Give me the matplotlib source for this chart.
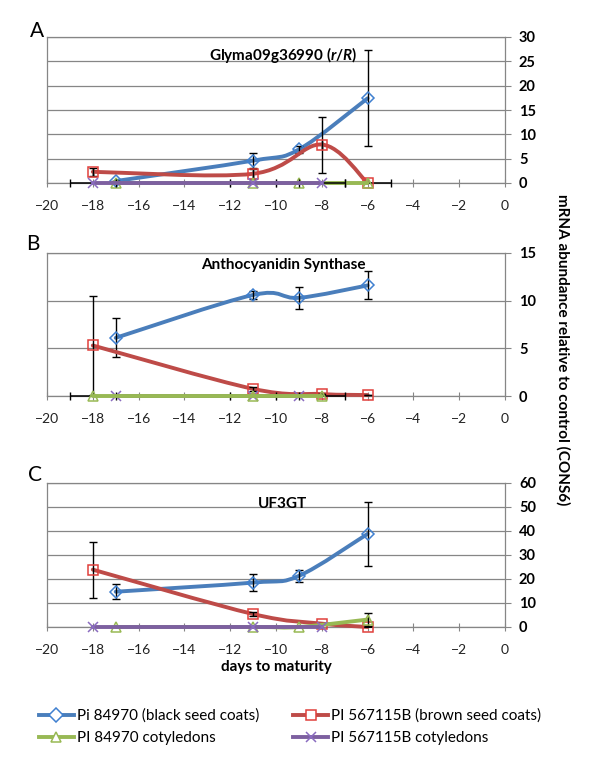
import matplotlib
matplotlib.use("Agg")
import numpy as np
from matplotlib import pyplot as plt
from matplotlib.path import Path
from matplotlib.patches import PathPatch
from matplotlib.lines import Line2D

plt.rcParams['font.family'] = ['Lato', 'DejaVu Sans']
plt.rcParams['mathtext.fontset'] = 'custom'
plt.rcParams['mathtext.it'] = 'Lato:bold:italic'
plt.rcParams['mathtext.rm'] = 'Lato:bold'

# series names and colours
names = ["Pi 84970 (black seed coats)", "PI 567115B (brown seed coats)",
         "PI 84970 cotyledons", "PI 567115B cotyledons"]
line_cols = ["#4A7EBB", "#BE4B48", "#98B954", "#7D60A0"]
mark_cols = ["#3F80D0", "#E0403C", "#98B954", "#8A6CC0"]
markers = ["D", "s", "^", "x"]

# panel A: Glyma09g36990 (r/R)
a_blue_x = [-17, -11, -9, -6]
a_blue_y = [0.4, 4.6, 6.9, 17.4]
a_blue_e = [0, 1.6, 0.7, 9.85]
a_red_x = [-18, -11, -8, -6]
a_red_y = [2.3, 1.9, 7.9, 0.0]
a_red_e = [0.8, 1.0, 5.75, 0]
a_green_x = [-17, -11, -9, -6]
a_green_y = [0, 0, 0, 0]
a_purple_x = [-18, -11, -8]
a_purple_y = [0, 0, 0]

# panel B: Anthocyanidin Synthase
b_blue_x = [-17, -11, -9, -6]
b_blue_y = [6.1, 10.6, 10.3, 11.6]
b_blue_e = [2.05, 0.45, 1.15, 1.47]
b_red_x = [-18, -11, -8, -6]
b_red_y = [5.3, 0.75, 0.2, 0.1]
b_red_e = [5.15, 0.2, 0, 0]
b_green_x = [-18, -11, -8]
b_green_y = [0, 0, 0]
b_purple_x = [-17, -11, -9]
b_purple_y = [0, 0, 0]

# panel C: UF3GT
c_blue_x = [-17, -11, -9, -6]
c_blue_y = [14.7, 18.5, 21.3, 38.8]
c_blue_e = [3.2, 3.4, 2.45, 13.3]
c_red_x = [-18, -11, -8, -6]
c_red_y = [23.9, 5.4, 1.4, 0.0]
c_red_e = [11.7, 0.9, 0, 0]
c_green_x = [-17, -11, -9, -6]
c_green_y = [0, 0, 0, 3.1]
c_green_e = [0, 0, 0, 2.7]
c_purple_x = [-18, -11, -8]
c_purple_y = [0, 0, 0]

xticks = list(range(-20, 1, 2))


def smooth(x, y):
    # Excel style smoothed line: bezier through the points
    x = np.asarray(x, float)
    y = np.asarray(y, float)
    px = np.concatenate([[x[0]], x, [x[-1]]])
    py = np.concatenate([[y[0]], y, [y[-1]]])
    verts = [(x[0], y[0])]
    codes = [Path.MOVETO]
    for i in range(1, len(px) - 2):
        c1 = (px[i] + (px[i + 1] - px[i - 1]) / 6, py[i] + (py[i + 1] - py[i - 1]) / 6)
        c2 = (px[i + 1] - (px[i + 2] - px[i]) / 6, py[i + 1] - (py[i + 2] - py[i]) / 6)
        verts += [c1, c2, (px[i + 1], py[i + 1])]
        codes += [Path.CURVE4] * 3
    return Path(verts, codes)


def series(ax, k, x, y, yerr=None, xerr=None, z=None):
    z = 2 + k if z is None else z
    if xerr is not None:
        eb = ax.errorbar(x, y, xerr=xerr, fmt='none', ecolor='black', elinewidth=1.1,
                         capsize=3, zorder=z)
        for a in eb.lines[1] + eb.lines[2]:
            a.set_clip_on(False)
    ax.add_patch(PathPatch(smooth(x, y), fill=False, edgecolor=line_cols[k],
                           lw=2.8, zorder=z, capstyle='round', clip_on=False))
    if yerr is not None:
        ax.errorbar(x, y, yerr=yerr, fmt='none', ecolor='black', elinewidth=1,
                    capsize=3, zorder=z + 0.5)
    ax.plot(x, y, linestyle='none', marker=markers[k], ms=7 if k != 0 else 6,
            mfc='none', mec=mark_cols[k], mew=1.1, zorder=z + 0.6, clip_on=False)


def style(ax, ymax, step):
    ax.set_xlim(-20, 0)
    ax.set_ylim(0, ymax)
    ax.set_xticks(xticks)
    ax.set_yticks(np.arange(0, ymax + 0.1, step))
    ax.yaxis.tick_right()
    ax.grid(axis='y', color='#868686', lw=0.9)
    ax.set_axisbelow(True)
    for s in ax.spines.values():
        s.set_color('#868686')
        s.set_linewidth(0.9)
    ax.tick_params(axis='x', direction='inout', length=6, color='#868686',
                   labelsize=10, pad=9, labelcolor='#222222')
    ax.tick_params(axis='y', direction='out', length=4, color='#868686',
                   labelsize=10.5, pad=6)
    for t in ax.get_yticklabels():
        t.set_fontweight('bold')


fig = plt.figure(figsize=(6, 7.57), dpi=100)
L, W = 47 / 600, 458 / 600
axA = fig.add_axes([L, 1 - 183 / 757, W, 146 / 757])
axB = fig.add_axes([L, 1 - 396 / 757, W, 143 / 757])
axC = fig.add_axes([L, 1 - 627 / 757, W, 144 / 757])

style(axA, 30, 5)
series(axA, 0, a_blue_x, a_blue_y, a_blue_e)
series(axA, 1, a_red_x, a_red_y, a_red_e, xerr=[0, 0, 0, 1])
series(axA, 2, a_green_x, a_green_y)
series(axA, 3, a_purple_x, a_purple_y, xerr=1)
axA.text(0.515, 0.88, r"Glyma09g36990 ($\mathit{r/R}$)", transform=axA.transAxes,
         ha='center', va='center', fontsize=11, fontweight='bold')

style(axB, 15, 5)
series(axB, 0, b_blue_x, b_blue_y, b_blue_e)
series(axB, 1, b_red_x, b_red_y, b_red_e)
series(axB, 3, b_purple_x, b_purple_y, z=4)
series(axB, 2, b_green_x, b_green_y, xerr=1, z=5)
axB.text(0.515, 0.916, "Anthocyanidin Synthase", transform=axB.transAxes,
         ha='center', va='center', fontsize=11, fontweight='bold')

style(axC, 60, 10)
series(axC, 0, c_blue_x, c_blue_y, c_blue_e)
series(axC, 1, c_red_x, c_red_y, c_red_e)
series(axC, 2, c_green_x, c_green_y, c_green_e)
series(axC, 3, c_purple_x, c_purple_y)
axC.text(0.515, 0.854, "UF3GT", transform=axC.transAxes,
         ha='center', va='center', fontsize=11, fontweight='bold')
axC.set_xlabel("days to maturity", fontsize=11, fontweight='bold', labelpad=3)

for lab, (x, y) in zip("ABC", [(37, 31), (33, 244), (35, 475)]):
    fig.text(x / 600, 1 - y / 757, lab, fontsize=15, ha='center', va='center')

fig.text(563 / 600, 1 - 350 / 757, "mRNA abundance relative to control (CONS6)",
         rotation=-90, ha='center', va='center', fontsize=11, fontweight='bold')

handles = [Line2D([], [], color=line_cols[k], lw=2.8, marker=markers[k], ms=7,
                  mfc='white', mec=mark_cols[k], mew=1.1) for k in range(4)]
order = [0, 2, 1, 3]
fig.legend([handles[i] for i in order], [names[i] for i in order], ncol=2,
           loc='upper left', bbox_to_anchor=(25 / 600, 1 - 695 / 757),
           frameon=False, fontsize=11, handlelength=2.3, handletextpad=0.2,
           columnspacing=2.2, labelspacing=0.55)

fig.savefig("out.png", dpi=100)
